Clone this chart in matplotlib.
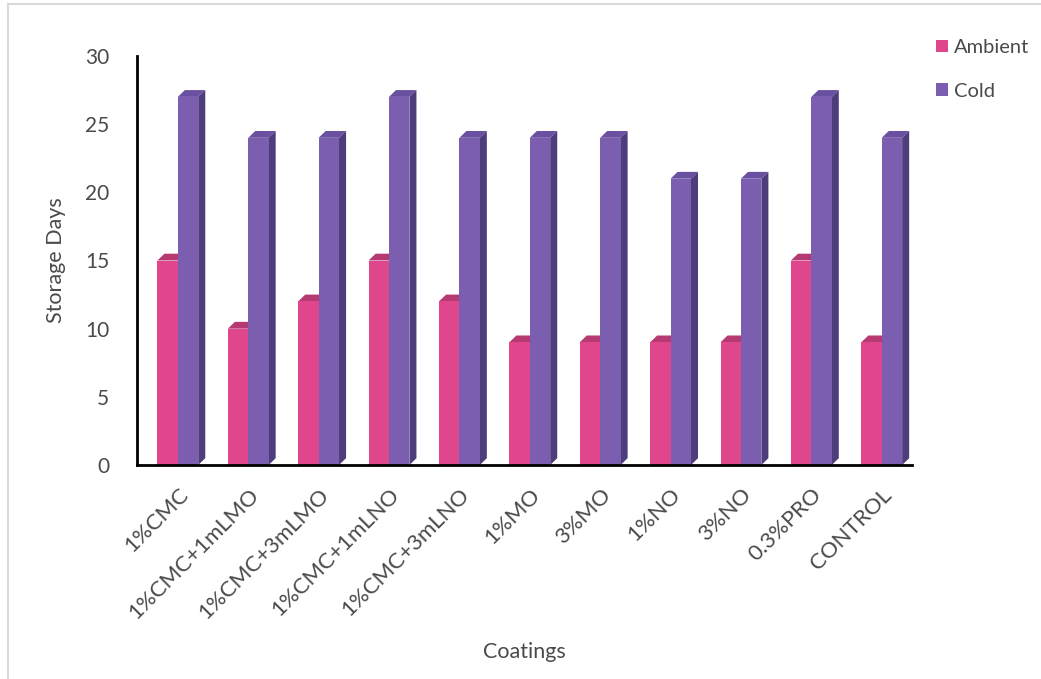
import matplotlib
matplotlib.use("Agg")
import matplotlib.pyplot as plt
from matplotlib.patches import Polygon, Rectangle
import numpy as np

categories = ["1%CMC", "1%CMC+1mLMO", "1%CMC+3mLMO", "1%CMC+1mLNO", "1%CMC+3mLNO",
              "1%MO", "3%MO", "1%NO", "3%NO", "0.3%PRO", "CONTROL"]
ambient = [15, 10, 12, 15, 12, 9, 9, 9, 9, 15, 9]
cold = [27, 24, 24, 27, 24, 24, 24, 21, 21, 27, 24]
series_names = ["Ambient", "Cold"]

plt.rcParams['font.family'] = ['Lato', 'DejaVu Sans']

W, H = 1041, 679
fig = plt.figure(figsize=(W / 100, H / 100), dpi=100)
# light gray frame
fig.patches.append(Rectangle((8 / W, -0.05), 1.2, (H - 4) / H + 0.05, transform=fig.transFigure,
                             fill=False, edgecolor="#d9d9d9", linewidth=1.5, zorder=0))

ax = fig.add_axes([137 / W, (H - 465) / H, (912 - 137) / W, (465 - 56) / H])
ax.set_xlim(-0.58, 10.43)
ax.set_ylim(0, 30)

amb_front, amb_top = "#E0468C", "#B63A72"
cold_front, cold_top, cold_side = "#7B5EB0", "#6A50A0", "#4F3C7A"
txt = "#4a4a4a"

w = 0.29
dx, dy = 0.1, 0.5
x = np.arange(len(categories))

ax.bar(x - w / 2, ambient, width=w, color=amb_front, zorder=2, label=series_names[0])
for xi, h in zip(x, ambient):
    x0, x1 = xi - w, xi
    ax.add_patch(Polygon([(x0, h), (x0 + dx, h + dy), (x1 + dx, h + dy), (x1, h)],
                         closed=True, facecolor=amb_top, edgecolor="none", zorder=1.9, clip_on=False))

ax.bar(x + w / 2, cold, width=w, color=cold_front, zorder=3, label=series_names[1])
for xi, h in zip(x, cold):
    x0, x1 = xi, xi + w
    ax.add_patch(Polygon([(x0, h), (x0 + dx, h + dy), (x1 + dx, h + dy), (x1, h)],
                         closed=True, facecolor=cold_top, edgecolor="none", zorder=2.9, clip_on=False))
    ax.add_patch(Polygon([(x1, 0), (x1 + dx, dy), (x1 + dx, h + dy), (x1, h)],
                         closed=True, facecolor=cold_side, edgecolor="none", zorder=2.9, clip_on=False))

for s in ["top", "right"]:
    ax.spines[s].set_visible(False)
for s in ["left", "bottom"]:
    ax.spines[s].set_linewidth(2)
    ax.spines[s].set_color("black")
    ax.spines[s].set_zorder(5)

ax.set_yticks(range(0, 31, 5))
ax.tick_params(axis="y", length=0, pad=20, labelsize=15, labelcolor=txt)
ax.set_xticks(x)
ax.set_xticklabels(categories, rotation=45, ha="right", rotation_mode="anchor",
                   fontsize=16, color=txt)
ax.tick_params(axis="x", length=0, pad=14)

ax.set_ylabel("Storage Days", fontsize=15.5, color=txt, labelpad=14)
fig.text(524 / W, 1 - 652 / H, "Coatings", fontsize=15.5, color=txt, ha="center", va="center")

leg = ax.legend(loc="upper left", bbox_to_anchor=(936 / W, 1 - 39 / H), bbox_transform=fig.transFigure,
                frameon=False, fontsize=14.5, handlelength=0.6, handleheight=0.6,
                handletextpad=0.3, labelspacing=1.32, borderpad=0, borderaxespad=0,
                labelcolor=txt)

fig.savefig("out.png", dpi=100, facecolor="white")
